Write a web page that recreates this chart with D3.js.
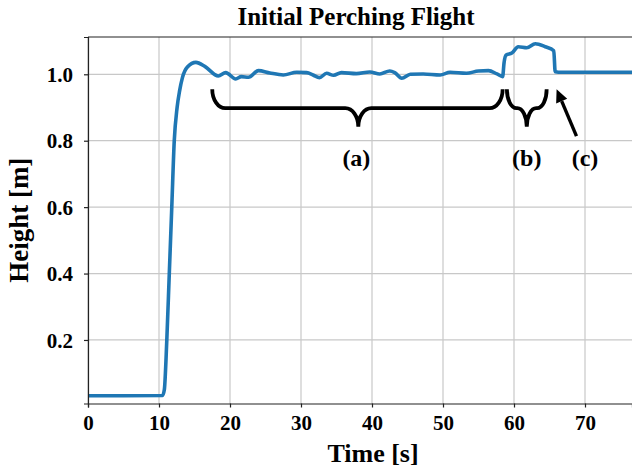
<!DOCTYPE html>
<html>
<head>
<meta charset="utf-8">
<script src="https://cdn.jsdelivr.net/npm/d3@7"></script>
<style>
  html, body { margin: 0; padding: 0; background: #fff; }
  svg { display: block; }
  text { font-family: "Liberation Serif", "Times New Roman", serif; font-weight: bold; fill: #000; }
</style>
</head>
<body>
<svg id="chart" width="632" height="474"></svg>
<script>
// ---- data ----
const timeS = [0, 5, 10.5, 10.75, 11.1, 11.45, 11.8, 12.15, 12.55, 12.9, 13.3, 14.0, 15.2, 16.5, 18.35, 19.4, 20.8, 21.6, 22.6, 24.0, 25.6, 27.5, 29.4, 30.8, 31.7, 32.6, 33.6, 34.6, 35.7, 37.8, 39.7, 41.1, 42.5, 43.2, 44.2, 45.4, 47.2, 49.6, 51.0, 53.3, 55.0, 56.4, 57.6, 58.4, 58.6, 58.9, 59.7, 60.6, 61.8, 63.0, 64.4, 65.6, 65.8, 66.7, 76.6];
const heightM = [0.032, 0.032, 0.033, 0.05, 0.2, 0.4, 0.6, 0.8, 0.9, 0.95, 0.99, 1.022, 1.036, 1.023, 0.995, 1.005, 0.986, 0.993, 0.991, 1.011, 1.004, 0.998, 1.006, 1.005, 0.998, 0.990, 1.003, 0.997, 1.005, 1.002, 1.007, 1.001, 1.010, 1.005, 0.988, 1.0, 1.001, 0.998, 1.006, 1.003, 1.010, 1.011, 1.001, 0.993, 1.035, 1.058, 1.064, 1.083, 1.080, 1.092, 1.083, 1.071, 1.008, 1.006, 1.006];
const xTicks = [0, 10, 20, 30, 40, 50, 60, 70];
const yTicks = [0.2, 0.4, 0.6, 0.8, 1.0];
const annotLabels = ["(a)", "(b)", "(c)"];
const annotLabelT = [37.8, 61.8, 70.0];
// braces: [start t, cusp t, end t]
const braces = [[17.5, 38.07, 58.4], [59.0, 61.8, 64.6]];
const arrowFrom = [68.8, 0.814];
const arrowTo = [66.0, 0.955];

// ---- layout ----
const svg = d3.select("#chart");
const L = 88, T = 37, R = 632, B = 403.5;
const x = d3.scaleLinear().domain([0, 76.62]).range([L, R]);
const y = d3.scaleLinear().domain([0.0087, 1.1123]).range([B, T]);

// grid
const grid = svg.append("g");
grid.selectAll(".gx").data(xTicks).enter().append("line")
  .attr("x1", d => x(d)).attr("x2", d => x(d)).attr("y1", T).attr("y2", B)
  .attr("stroke", "#c8c8c8").attr("stroke-width", 1.2);
grid.selectAll(".gy").data(yTicks).enter().append("line")
  .attr("x1", L).attr("x2", R).attr("y1", d => y(d)).attr("y2", d => y(d))
  .attr("stroke", "#c8c8c8").attr("stroke-width", 1.2);

// clip
svg.append("clipPath").attr("id", "clip").append("rect")
  .attr("x", L).attr("y", T).attr("width", R - L).attr("height", B - T);

const pts = timeS.map((t, i) => [t, heightM[i]]);
const line = d3.line().x(d => x(d[0])).y(d => y(d[1])).curve(d3.curveMonotoneX);
svg.append("path").datum(pts)
  .attr("clip-path", "url(#clip)")
  .attr("d", line)
  .attr("fill", "none").attr("stroke", "#1f77b4").attr("stroke-width", 3.6)
  .attr("stroke-linejoin", "round").attr("stroke-linecap", "round");

// axes
const xAxis = d3.axisBottom(x).tickValues(xTicks).tickFormat(d3.format("d")).tickSize(4).tickPadding(8);
const gx = svg.append("g").attr("transform", `translate(0,${B})`).call(xAxis);
const yAxis = d3.axisLeft(y).tickValues(yTicks).tickFormat(d3.format(".1f")).tickSize(4).tickPadding(11);
const gy = svg.append("g").attr("transform", `translate(${L},0)`).call(yAxis);
[gx, gy].forEach(g => {
  g.select(".domain").attr("stroke", "#222").attr("stroke-width", 1.2);
  g.selectAll(".tick line").attr("stroke", "#222").attr("stroke-width", 1.2);
  g.selectAll(".tick text").style("font-family", '"Liberation Serif", serif')
    .style("font-weight", "bold").style("font-size", "21px").attr("fill", "#000");
});
gy.selectAll(".tick text").attr("dy", "0.34em");
// top spine
svg.append("line").attr("x1", L).attr("x2", R).attr("y1", T).attr("y2", T)
  .attr("stroke", "#222").attr("stroke-width", 1.2);

// title & labels
svg.append("text").attr("x", 356).attr("y", 25).attr("text-anchor", "middle")
  .style("font-size", "25px").text("Initial Perching Flight");
svg.append("text").attr("x", 373).attr("y", 462).attr("text-anchor", "middle")
  .style("font-size", "26px").text("Time [s]");
svg.append("text").attr("transform", `translate(28,${(T + B) / 2}) rotate(-90)`)
  .attr("text-anchor", "middle").style("font-size", "27px").text("Height [m]");

// braces
const yTop = y(0.955), yMid = y(0.898), yBot = y(0.842);
function bracePath(b, rx) {
  const x0 = x(b[0]), xc = x(b[1]), x1 = x(b[2]);
  const ry1 = yMid - yTop, ry2 = yBot - yMid;
  return `M${x0},${yTop} A${rx},${ry1} 0 0 0 ${x0 + rx},${yMid}` +
    ` L${xc - rx},${yMid} A${rx},${ry2} 0 0 1 ${xc},${yBot}` +
    ` A${rx},${ry2} 0 0 1 ${xc + rx},${yMid}` +
    ` L${x1 - rx},${yMid} A${rx},${ry1} 0 0 0 ${x1},${yTop}`;
}
svg.selectAll(".brace").data(braces).enter().append("path")
  .attr("d", (d, i) => bracePath(d, i === 0 ? 13 : 9.5))
  .attr("fill", "none").attr("stroke", "#000").attr("stroke-width", 3.8);

// arrow
const ax0 = x(arrowFrom[0]), ay0 = y(arrowFrom[1]), ax1 = x(arrowTo[0]), ay1 = y(arrowTo[1]);
const ang = Math.atan2(ay1 - ay0, ax1 - ax0);
const headL = 13, headW = 6;
const bx = ax1 - headL * Math.cos(ang), by = ay1 - headL * Math.sin(ang);
svg.append("line").attr("x1", ax0).attr("y1", ay0).attr("x2", bx).attr("y2", by)
  .attr("stroke", "#000").attr("stroke-width", 3.4);
svg.append("path")
  .attr("d", `M${ax1},${ay1} L${bx + headW * Math.sin(ang)},${by - headW * Math.cos(ang)} L${bx - headW * Math.sin(ang)},${by + headW * Math.cos(ang)} Z`)
  .attr("fill", "#000");

// annotation labels
svg.selectAll(".alab").data(annotLabels).enter().append("text")
  .attr("x", (d, i) => x(annotLabelT[i])).attr("y", y(0.725))
  .attr("text-anchor", "middle").style("font-size", "24px").text(d => d);
</script>
</body>
</html>
